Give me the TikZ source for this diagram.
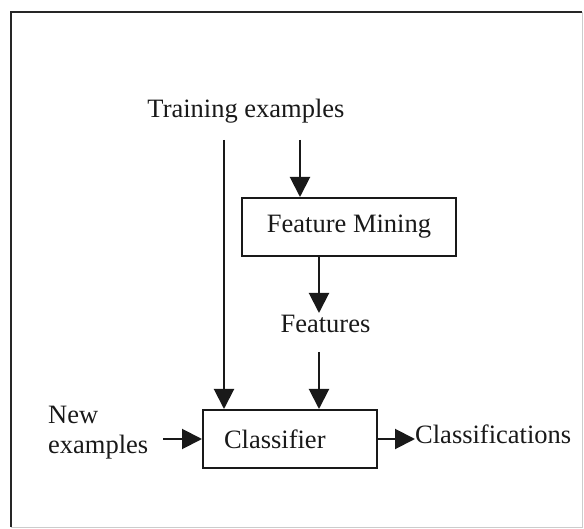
\documentclass[tikz,border=0pt]{standalone}
\usepackage{fontspec}
\setmainfont{Liberation Serif}
\usetikzlibrary{arrows.meta}
\begin{document}
\begin{tikzpicture}[x=1pt,y=-1pt,
  lbl/.style={inner sep=0pt, text=black!90, font=\fontsize{26.5}{30}\selectfont},
  blk/.style={draw=black!90, line width=2pt, inner sep=0pt, text=black!90,
    font=\fontsize{26.5}{30}\selectfont},
  flow/.style={draw=black!90, line width=2pt,
    -{Triangle[length=20pt,width=20pt]}}]
\useasboundingbox (0,0) rectangle (584,529);
% frame
\draw[line width=2.5pt, black!85] (11,527) -- (11,12) -- (582,12);
\draw[line width=1pt, black!20] (582,12) -- (582,527) -- (11,527);

% labels and blocks
\node[lbl, anchor=base] (train) at (246,118) {Training examples};
\node[blk, minimum width=214pt, minimum height=58pt] (fm) at (349,227) {Feature Mining};
\node[lbl, anchor=base] (feat) at (325.5,333) {Features};
\node[blk, minimum width=174pt, minimum height=58pt, text width=132pt,
  inner xsep=21pt, align=left] (cls) at (290,439) {Classifier};
\node[lbl, anchor=north west, align=left] (new) at (48,406) {New\\examples};
\node[lbl, anchor=base west] (out) at (415,443) {Classifications};

% connector end points
\coordinate (tA) at (224,140);
\coordinate (tB) at (300,140);
\coordinate (fmo) at (319,256);
\coordinate (fti) at (319,313);
\coordinate (fto) at (319,352);
\coordinate (nx) at (163,439);

% connectors
\draw[flow] (tA) -- (tA |- cls.north);
\draw[flow] (tB) -- (tB |- fm.north);
\draw[flow] (fmo) -- (fti);
\draw[flow] (fto) -- (fto |- cls.north);
\draw[flow] (nx) -- (cls.west);
\draw[flow] (cls.east) -- (cls.east -| out.west);
\end{tikzpicture}
\end{document}
